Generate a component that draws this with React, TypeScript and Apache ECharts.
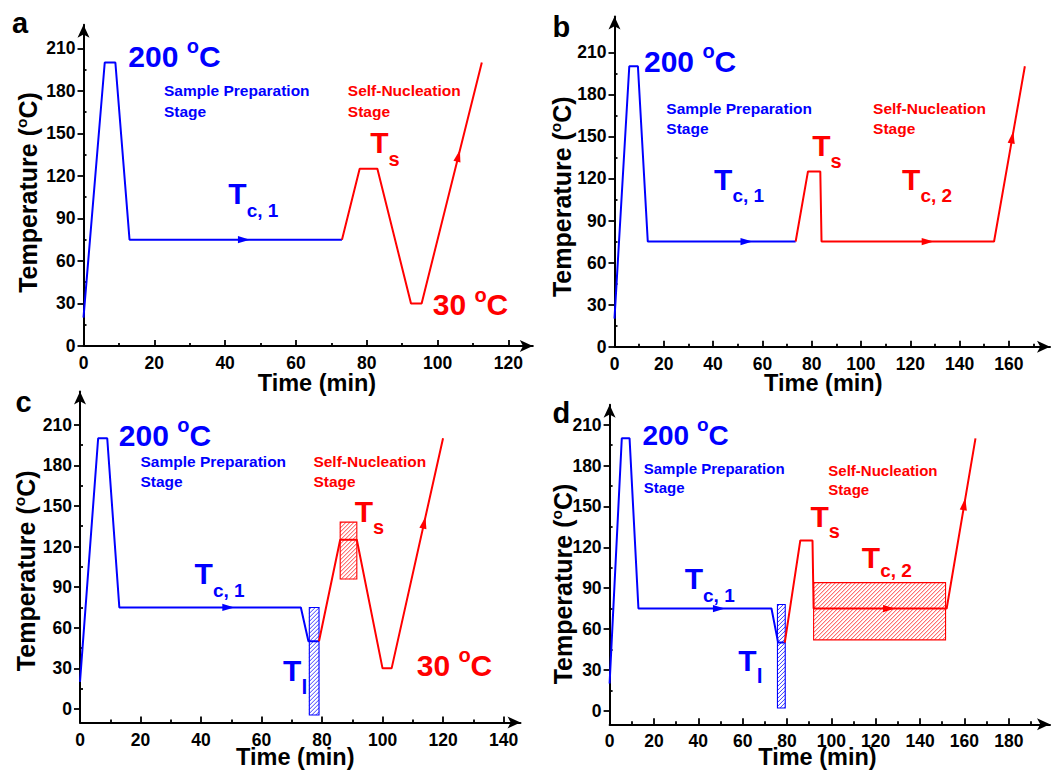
import React, { useEffect, useRef } from "react";
import * as echarts from "echarts";

const FONT = '"Liberation Sans", Arial, Helvetica, sans-serif';
const BLUE = "#0000ff";
const RED = "#ff0000";
const BLACK = "#000000";

// ---------- data ----------
const yMajor = [0, 30, 60, 90, 120, 150, 180, 210];
const yMinor = [15, 45, 75, 105, 135, 165, 195];

const xMajorA = [0, 20, 40, 60, 80, 100, 120];
const xMinorA = [10, 30, 50, 70, 90, 110];
const xMajorB = [0, 20, 40, 60, 80, 100, 120, 140, 160];
const xMinorB = [10, 30, 50, 70, 90, 110, 130, 150, 170];
const xMajorC = [0, 20, 40, 60, 80, 100, 120, 140];
const xMinorC = [10, 30, 50, 70, 90, 110, 130];
const xMajorD = [0, 20, 40, 60, 80, 100, 120, 140, 160, 180];
const xMinorD = [10, 30, 50, 70, 90, 110, 130, 150, 170, 190];

// panel a
const blueA = [[0, 20], [6, 200], [9, 200], [13, 75], [73, 75]];
const redA = [[73, 75], [78, 125], [83, 125], [92.5, 30], [95.5, 30], [112.5, 200]];
const blueArrowsA = [[47, 75, 13, 75]];
const redArrowsA = [[106.3, 138.3, 95.5, 30]];

// panel b
const blueB = [[0, 20], [6, 200], [9.5, 200], [13.5, 75], [73.5, 75]];
const redB = [[73.5, 75], [78.5, 125], [83.5, 125], [84, 75], [154, 75], [166.5, 200]];
const blueArrowsB = [[56, 75, 13.5, 75]];
const redArrowsB = [[129.5, 75, 84, 75], [161.8, 153.4, 154, 75]];

// panel c
const blueC = [[0, 20], [6, 200], [9, 200], [13, 75], [73, 75], [75.5, 50], [79, 50]];
const redC = [[79, 50], [86, 125], [91.5, 125], [100, 30], [103, 30], [120, 200]];
const blueArrowsC = [[51, 75, 13, 75]];
const redArrowsC = [[114.2, 142, 103, 30]];
const blueHatchC = [[75.8, 79, -4.5, 75]];
const redHatchC = [[86, 91.5, 96, 138]];

// panel d
const blueD = [[0, 20], [5.5, 200], [9, 200], [13, 75], [73, 75], [76, 50], [79, 50]];
const redD = [[79, 50], [86, 125], [91.5, 125], [92, 75], [152, 75], [165, 200]];
const blueArrowsD = [[52, 75, 13, 75]];
const redArrowsD = [[128.7, 75, 92, 75], [160.4, 156, 152, 75]];
const blueHatchD = [[75.7, 79.2, 2, 78]];
const redHatchD = [[92, 151.5, 52, 94]];

// ---------- layout ----------
const PANELS = [
  { grid: { left: 83.5, top: 24.8, width: 449.3, height: 321.2 }, xMax: 126.9, yMin: 0, yMax: 226.6,
    xMajor: xMajorA, xMinor: xMinorA, blue: blueA, red: redA, ba: blueArrowsA, ra: redArrowsA, bh: [], rh: [] },
  { grid: { left: 614.5, top: 16.5, width: 435.5, height: 330.2 }, xMax: 176.7, yMin: 0, yMax: 235.5,
    xMajor: xMajorB, xMinor: xMinorB, blue: blueB, red: redB, ba: blueArrowsB, ra: redArrowsB, bh: [], rh: [] },
  { grid: { left: 80, top: 391.5, width: 440.5, height: 331 }, xMax: 145.6, yMin: -10, yMax: 234.5,
    xMajor: xMajorC, xMinor: xMinorC, blue: blueC, red: redC, ba: blueArrowsC, ra: redArrowsC, bh: blueHatchC, rh: redHatchC },
  { grid: { left: 609.6, top: 404.8, width: 440.4, height: 319.5 }, xMax: 198.6, yMin: -10, yMax: 224.6,
    xMajor: xMajorD, xMinor: xMinorD, blue: blueD, red: redD, ba: blueArrowsD, ra: redArrowsD, bh: blueHatchD, rh: redHatchD },
];

// ---------- text helpers ----------
let measureCtx: CanvasRenderingContext2D | null = null;
function tw(text: string, size: number): number {
  if (!measureCtx) measureCtx = document.createElement("canvas").getContext("2d");
  measureCtx!.font = `bold ${size}px ${FONT}`;
  return measureCtx!.measureText(text).width;
}
const CENTRAL = 0.3465;
function textEl(x: number, baseline: number, text: string, size: number, color: string, align = "left") {
  return {
    type: "text",
    x,
    y: baseline - CENTRAL * size,
    silent: true,
    z: 100,
    style: { text, fill: color, font: `bold ${size}px ${FONT}`, textAlign: align, textVerticalAlign: "middle", verticalAlign: "middle" },
  };
}
type Part = [string, number, number]; // text, size, baseline
function seq(x: number, parts: Part[], color: string) {
  const out: any[] = [];
  let cx = x;
  for (const [t, s, b] of parts) {
    out.push(textEl(cx, b, t, s, color));
    cx += tw(t, s);
  }
  return out;
}
function vTitle(bx: number, cy: number) {
  const s = 25, so = 15.5;
  const p1 = "Temperature (", p2 = "o", p3 = "C)";
  const w1 = tw(p1, s), w2 = tw(p2, so), w3 = tw(p3, s);
  const x0 = -(w1 + w2 + w3) / 2;
  return {
    type: "group", x: bx, y: cy, rotation: Math.PI / 2, silent: true,
    children: [
      textEl(x0, 0, p1, s, BLACK),
      textEl(x0 + w1, -9.5, p2, so, BLACK),
      textEl(x0 + w1 + w2, 0, p3, s, BLACK),
    ],
  };
}
function hTitle(cx: number, b: number) {
  return textEl(cx, b, "Time (min)", 23.5, BLACK, "center");
}

function buildGraphics() {
  const g: any[] = [];
  // panel a
  g.push(textEl(12, 33.3, "a", 29, BLACK));
  g.push(...seq(128.3, [["200 ", 30, 67.3], ["o", 20, 53], ["C", 30, 67.3]], BLUE));
  g.push(textEl(164, 96, "Sample Preparation", 15.5, BLUE), textEl(164, 116.5, "Stage", 15.5, BLUE));
  g.push(textEl(347.8, 96, "Self-Nucleation", 15.5, RED), textEl(347.8, 116.5, "Stage", 15.5, RED));
  g.push(...seq(370.2, [["T", 30, 153.3], ["s", 20, 165.7]], RED));
  g.push(...seq(228.3, [["T", 30, 204], ["c, 1", 19, 217.3]], BLUE));
  g.push(...seq(432.7, [["30 ", 30, 315], ["o", 20, 301.5], ["C", 30, 315]], RED));
  g.push(vTitle(36.2, 192.5), hTitle(316.9, 391));
  // panel b
  g.push(textEl(552.5, 36.7, "b", 29, BLACK));
  g.push(...seq(644, [["200 ", 30, 71.7], ["o", 20, 57.5], ["C", 30, 71.7]], BLUE));
  g.push(textEl(666.3, 114, "Sample Preparation", 15.5, BLUE), textEl(666.3, 134, "Stage", 15.5, BLUE));
  g.push(textEl(873.1, 114, "Self-Nucleation", 15.5, RED), textEl(873.1, 134, "Stage", 15.5, RED));
  g.push(...seq(812.2, [["T", 30, 156], ["s", 20, 168.3]], RED));
  g.push(...seq(714.1, [["T", 30, 190], ["c, 1", 19, 202.3]], BLUE));
  g.push(...seq(902.1, [["T", 30, 190], ["c, 2", 19, 202.3]], RED));
  g.push(vTitle(570.6, 196.7), hTitle(823.3, 391));
  // panel c
  g.push(textEl(15.5, 411.7, "c", 29, BLACK));
  g.push(...seq(118.8, [["200 ", 30, 446], ["o", 20, 432], ["C", 30, 446]], BLUE));
  g.push(textEl(140.5, 467.3, "Sample Preparation", 15.5, BLUE), textEl(140.5, 487.3, "Stage", 15.5, BLUE));
  g.push(textEl(313.4, 466.7, "Self-Nucleation", 15.5, RED), textEl(313.4, 486.7, "Stage", 15.5, RED));
  g.push(...seq(354.7, [["T", 30, 522.3], ["s", 20, 534]], RED));
  g.push(...seq(194.6, [["T", 30, 584], ["c, 1", 19, 597.3]], BLUE));
  g.push(...seq(283.1, [["T", 30, 681], ["l", 21, 694]], BLUE));
  g.push(...seq(416.7, [["30 ", 30, 675.7], ["o", 20, 662], ["C", 30, 675.7]], RED));
  g.push(vTitle(34.4, 570.8), hTitle(295.3, 765.5));
  // panel d
  g.push(textEl(552.5, 423.3, "d", 29, BLACK));
  g.push(...seq(642.4, [["200 ", 28, 445], ["o", 19, 431.5], ["C", 28, 445]], BLUE));
  g.push(textEl(643.7, 473.3, "Sample Preparation", 15, BLUE), textEl(643.7, 492.3, "Stage", 15, BLUE));
  g.push(textEl(828.3, 475.7, "Self-Nucleation", 15, RED), textEl(828.3, 495, "Stage", 15, RED));
  g.push(...seq(810.5, [["T", 30, 526.7], ["s", 20, 538.3]], RED));
  g.push(...seq(861.8, [["T", 30, 568.3], ["c, 2", 19, 577]], RED));
  g.push(...seq(684.7, [["T", 30, 589], ["c, 1", 19, 601.7]], BLUE));
  g.push(...seq(738.3, [["T", 30, 670.7], ["l", 21, 682.7]], BLUE));
  g.push(vTitle(571.3, 584), hTitle(817.4, 765.5));
  return g;
}

// ---------- render helpers ----------
function arrowRender(params: any, api: any) {
  const tip = api.coord([api.value(0), api.value(1)]);
  const from = api.coord([api.value(2), api.value(3)]);
  const dx = tip[0] - from[0], dy = tip[1] - from[1];
  const len = Math.hypot(dx, dy) || 1;
  const ux = dx / len, uy = dy / len, nx = -uy, ny = ux;
  const L = 12, W = 3.6;
  const bx = tip[0] - ux * L, by = tip[1] - uy * L;
  return {
    type: "polygon",
    shape: { points: [tip, [bx + nx * W, by + ny * W], [bx - nx * W, by - ny * W]] },
    style: { fill: api.visual("color"), stroke: null },
  };
}
function hatchRender(params: any, api: any) {
  const color = api.visual("color");
  const p0 = api.coord([api.value(0), api.value(3)]);
  const p1 = api.coord([api.value(1), api.value(2)]);
  const x0 = Math.min(p0[0], p1[0]), x1 = Math.max(p0[0], p1[0]);
  const y0 = Math.min(p0[1], p1[1]), y1 = Math.max(p0[1], p1[1]);
  const children: any[] = [];
  const step = 4;
  for (let c = x0 + y0 + step / 2; c < x1 + y1; c += step) {
    const xa = Math.max(x0, c - y1), xb = Math.min(x1, c - y0);
    if (xb <= xa) continue;
    children.push({ type: "line", shape: { x1: xa, y1: c - xa, x2: xb, y2: c - xb }, style: { stroke: color, lineWidth: 0.9, opacity: 0.85 } });
  }
  children.push({ type: "rect", shape: { x: x0, y: y0, width: x1 - x0, height: y1 - y0 }, style: { fill: "none", stroke: color, lineWidth: 1.1 } });
  return { type: "group", children };
}

const labelStyle = { fontFamily: FONT, fontWeight: "bold", fontSize: 17.5, color: BLACK };

function buildOption() {
  const grid: any[] = [], xAxis: any[] = [], yAxis: any[] = [], series: any[] = [];
  PANELS.forEach((p, i) => {
    grid.push({ ...p.grid, containLabel: false, outerBoundsMode: "none" });
    const axLine = { show: true, onZero: false, symbol: ["none", "arrow"], symbolSize: [9, 13], lineStyle: { color: BLACK, width: 2 } };
    xAxis.push({
      type: "value", gridIndex: i, min: 0, max: p.xMax, position: "bottom",
      axisLine: axLine,
      axisTick: { show: true, inside: true, length: 6, customValues: p.xMajor, lineStyle: { color: BLACK, width: 1.8 } },
      axisLabel: { show: true, margin: 8, customValues: p.xMajor, ...labelStyle },
      splitLine: { show: false },
    });
    xAxis.push({
      type: "value", gridIndex: i, min: 0, max: p.xMax, position: "bottom", offset: 0,
      axisLine: { show: false, onZero: false },
      axisTick: { show: true, inside: true, length: 3, customValues: p.xMinor, lineStyle: { color: BLACK, width: 1.8 } },
      axisLabel: { show: false },
      splitLine: { show: false },
    });
    yAxis.push({
      type: "value", gridIndex: i, min: p.yMin, max: p.yMax, position: "left",
      axisLine: axLine,
      axisTick: { show: true, inside: false, length: 6, customValues: yMajor, lineStyle: { color: BLACK, width: 1.8 } },
      axisLabel: { show: true, margin: 8, customValues: yMajor, ...labelStyle },
      splitLine: { show: false },
    });
    yAxis.push({
      type: "value", gridIndex: i, min: p.yMin, max: p.yMax, position: "left", offset: 0,
      axisLine: { show: false, onZero: false },
      axisTick: { show: true, inside: true, length: 3, customValues: yMinor, lineStyle: { color: BLACK, width: 1.8 } },
      axisLabel: { show: false },
      splitLine: { show: false },
    });
    const xi = i * 2, yi = i * 2;
    const hatchData = [
      ...p.bh.map((v) => ({ value: v, itemStyle: { color: BLUE } })),
      ...p.rh.map((v) => ({ value: v, itemStyle: { color: RED } })),
    ];
    if (hatchData.length) {
      series.push({ type: "custom", xAxisIndex: xi, yAxisIndex: yi, renderItem: hatchRender, data: hatchData, z: 2, clip: false, silent: true });
    }
    series.push({ type: "line", xAxisIndex: xi, yAxisIndex: yi, data: p.blue, showSymbol: false, symbol: "none", lineStyle: { color: BLUE, width: 2 }, itemStyle: { color: BLUE }, z: 3, silent: true });
    series.push({ type: "line", xAxisIndex: xi, yAxisIndex: yi, data: p.red, showSymbol: false, symbol: "none", lineStyle: { color: RED, width: 2 }, itemStyle: { color: RED }, z: 3, silent: true });
    const arrowData = [
      ...p.ba.map((v) => ({ value: v, itemStyle: { color: BLUE } })),
      ...p.ra.map((v) => ({ value: v, itemStyle: { color: RED } })),
    ];
    series.push({ type: "custom", xAxisIndex: xi, yAxisIndex: yi, renderItem: arrowRender, data: arrowData, z: 4, clip: false, silent: true });
  });
  return {
    animation: false,
    backgroundColor: "#ffffff",
    grid, xAxis, yAxis, series,
    graphic: { elements: buildGraphics() },
  };
}

export default function App() {
  const ref = useRef<HTMLDivElement>(null);
  useEffect(() => {
    if (!ref.current) return;
    const chart = echarts.init(ref.current, null, { renderer: "svg" });
    chart.setOption(buildOption() as any);
    return () => chart.dispose();
  }, []);
  return (
    <div
      ref={ref}
      style={{ position: "absolute", left: 0, top: 0, width: 1056, height: 771, background: "#fff" }}
    />
  );
}
